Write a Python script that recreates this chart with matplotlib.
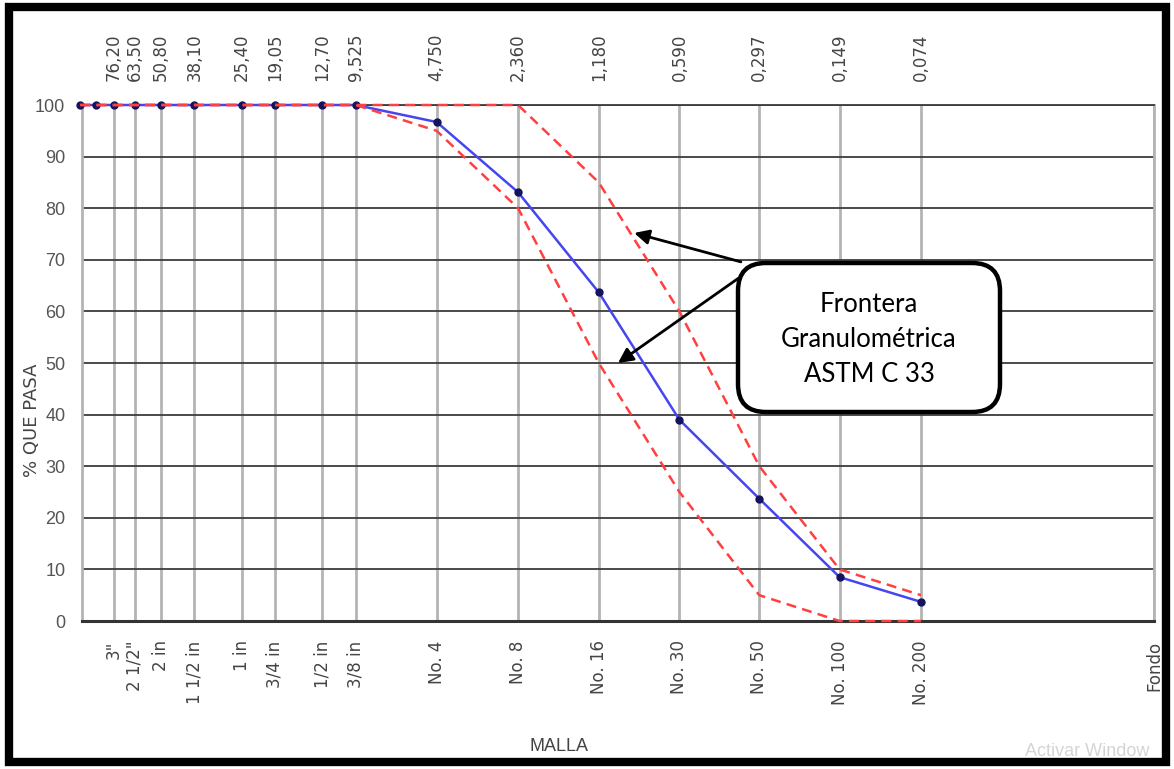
import matplotlib.pyplot as plt
from matplotlib.patches import FancyBboxPatch, Rectangle
from matplotlib.ticker import NullLocator

# sieve openings (mm) and their names
sizes = [76.2, 63.5, 50.8, 38.1, 25.4, 19.05, 12.7, 9.525,
         4.75, 2.36, 1.18, 0.59, 0.297, 0.149, 0.074, 0.01]
top_labels = ["76,20", "63,50", "50,80", "38,10", "25,40", "19,05", "12,70", "9,525",
              "4,750", "2,360", "1,180", "0,590", "0,297", "0,149", "0,074", ""]
bottom_labels = ['3"', '2 1/2"', "2 in", "1 1/2 in", "1 in", "3/4 in", "1/2 in", "3/8 in",
                 "No. 4", "No. 8", "No. 16", "No. 30", "No. 50", "No. 100", "No. 200", "Fondo"]

# curve points
curve_x = [101.6, 88.9, 76.2, 63.5, 50.8, 38.1, 25.4, 19.05, 12.7, 9.525,
           4.75, 2.36, 1.18, 0.59, 0.297, 0.149, 0.074]
sample = [100, 100, 100, 100, 100, 100, 100, 100, 100, 100,
          96.7, 83.1, 63.7, 39.0, 23.7, 8.5, 3.7]
upper = [100, 100, 100, 100, 100, 100, 100, 100, 100, 100,
         100, 100, 85, 60, 30, 10, 5]
lower = [100, 100, 100, 100, 100, 100, 100, 100, 100, 100,
         95, 80, 50, 25, 5, 0, 0]

W, H = 1174, 769
fig = plt.figure(figsize=(W / 100, H / 100), dpi=100)
ax = fig.add_axes([82 / W, 1 - 621 / H, (1154 - 82) / W, (621 - 105) / H])

ax.set_xscale("log")
ax.set_xlim(100, 0.01)
ax.set_ylim(0, 100)

# grid
ax.set_xticks(sizes)
ax.xaxis.set_minor_locator(NullLocator())
ax.set_xticklabels(bottom_labels, rotation=90, family="DejaVu Sans",
                   fontsize=12, color="#444444")
ax.set_yticks(range(0, 101, 10))
ax.set_yticklabels([str(v) for v in range(0, 101, 10)],
                   family=["Liberation Sans Narrow", "Liberation Sans"],
                   fontsize=13, color="#555555")
ax.tick_params(axis="x", length=0, pad=14)
ax.tick_params(axis="y", length=0, pad=12)
ax.grid(axis="x", color="#b4b4b4", lw=2)
ax.grid(axis="y", color="#3c3c3c", lw=1.3)
ax.set_axisbelow(True)
for side in ["left", "right"]:
    ax.spines[side].set_color("#b4b4b4")
    ax.spines[side].set_linewidth(2)
ax.spines["top"].set_color("#3c3c3c")
ax.spines["top"].set_linewidth(1.3)
ax.spines["bottom"].set_color("#333333")
ax.spines["bottom"].set_linewidth(2.2)

top = ax.secondary_xaxis("top", functions=(lambda x: x, lambda x: x))
top.set_xticks(sizes)
top.xaxis.set_minor_locator(NullLocator())
top.set_xticklabels(top_labels, rotation=90, family="DejaVu Sans",
                    fontsize=12, color="#444444")
top.tick_params(axis="x", length=0, pad=17)
top.spines["top"].set_visible(False)

ax.set_ylabel("% QUE PASA", family="DejaVu Sans", fontsize=13, color="#444444")
ax.yaxis.set_label_coords(-0.038, 0.39)
ax.set_xlabel("MALLA", family=["Liberation Sans Narrow", "Liberation Sans"],
              fontsize=13, color="#444444")
ax.xaxis.set_label_coords(0.445, -0.227)

# curves
ax.plot(curve_x, sample, color="#4646f0", lw=1.8, marker="o", ms=5,
        mfc="#14145a", mec="#14145a", clip_on=False, zorder=3)
ax.plot(curve_x, upper, color="#ff4040", lw=1.8, dashes=(4, 2.5),
        clip_on=False, zorder=4)
ax.plot(curve_x, lower, color="#ff4040", lw=1.8, dashes=(4, 2.5),
        clip_on=False, zorder=4)

# callout box
bw, bh = (1000 - 738) / 1072, (412 - 263) / 516
bx, by = (738 - 82) / 1072, (621 - 412) / 516
box = FancyBboxPatch((bx, by), bw, bh, transform=ax.transAxes,
                     boxstyle="round,pad=0,rounding_size=0.026",
                     mutation_aspect=1072 / 516,
                     fc="white", ec="black", lw=3.2, zorder=6)
ax.add_patch(box)
ax.text(bx + bw / 2, by + bh / 2 - 0.004, "Frontera\nGranulométrica\nASTM C 33",
        transform=ax.transAxes, ha="center", va="center",
        family="Lato", fontsize=18.5, linespacing=1.5, zorder=7)

ax.annotate("", xy=(0.87, 75.2), xytext=(0.348, 69.6),
            arrowprops=dict(arrowstyle="-|>", color="black", lw=2,
                            mutation_scale=22, shrinkA=0, shrinkB=0), zorder=5)
ax.annotate("", xy=(1.0, 50.0), xytext=(0.356, 66.4),
            arrowprops=dict(arrowstyle="-|>", color="black", lw=2,
                            mutation_scale=22, shrinkA=0, shrinkB=0), zorder=5)

# watermark and outer frame
fig.text(1025 / W, 1 - 756 / H, "Activar Window",
         family=["Liberation Sans Narrow", "Liberation Sans"],
         fontsize=13, color="#d4d4d4", zorder=1)
fig.patches.append(Rectangle((9 / W, 7 / H), (1166 - 9) / W, (762 - 7) / H,
                             transform=fig.transFigure, fill=False,
                             ec="black", lw=6, zorder=10))

fig.savefig("out.png", dpi=100)
